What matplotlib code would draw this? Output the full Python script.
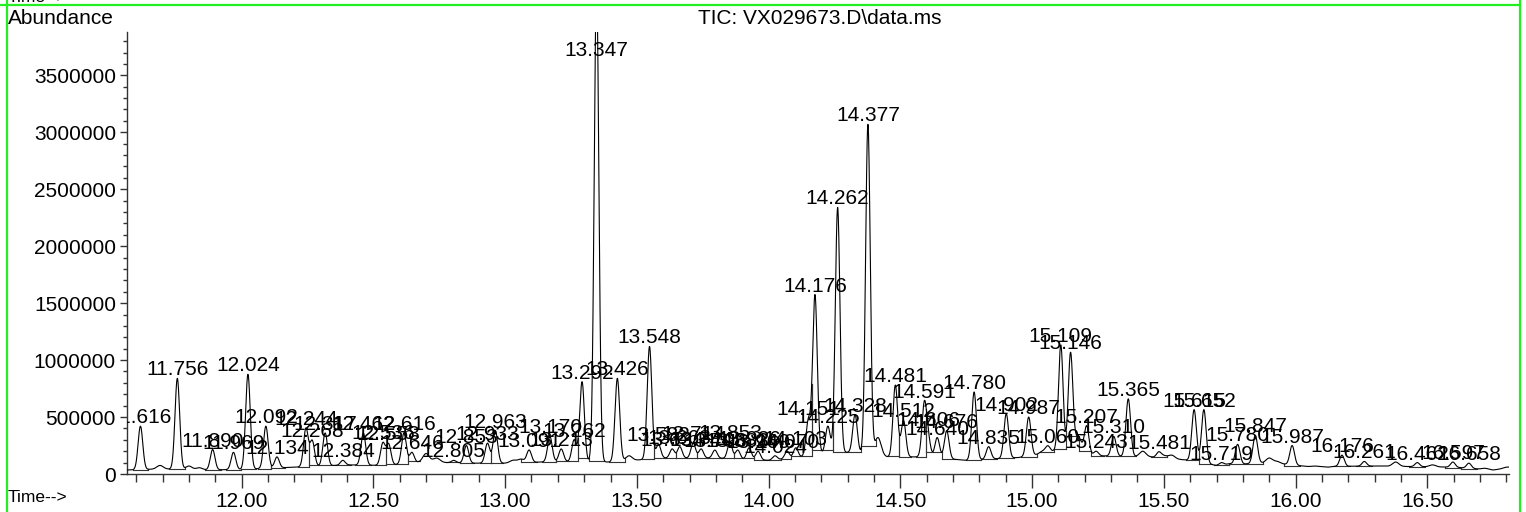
import numpy as np
import matplotlib
matplotlib.use("Agg")
import matplotlib.pyplot as plt
from matplotlib.lines import Line2D
from matplotlib.ticker import MultipleLocator, FuncFormatter

plt.rcParams['font.family'] = ['Liberation Sans', 'DejaVu Sans']

# ---------------- data ----------------
# labelled peaks: retention time (min) and apex abundance
peak_rt = [11.616, 11.756, 11.890, 11.969, 12.024, 12.092, 12.134, 12.244, 12.268,
           12.317, 12.384, 12.462, 12.536, 12.558, 12.616, 12.646, 12.805, 12.853,
           12.933, 12.963, 13.091, 13.170, 13.213, 13.262, 13.292, 13.347, 13.426,
           13.548, 13.582, 13.634, 13.663, 13.714, 13.744, 13.796, 13.853, 13.883,
           13.926, 13.960, 14.024, 14.070, 14.103, 14.151, 14.176, 14.225, 14.262,
           14.328, 14.377, 14.481, 14.512, 14.591, 14.606, 14.640, 14.676, 14.780,
           14.835, 14.902, 14.987, 15.060, 15.109, 15.146, 15.207, 15.243, 15.310,
           15.365, 15.481, 15.615, 15.652, 15.719, 15.780, 15.847, 15.987, 16.176,
           16.261, 16.462, 16.597, 16.658]
peak_height = [420000, 840000, 215000, 190000, 875000, 420000, 150000, 400000, 290000,
               360000, 120000, 360000, 270000, 260000, 360000, 190000, 120000, 250000,
               270000, 380000, 210000, 330000, 220000, 300000, 810000, 4300000, 840000,
               1120000, 260000, 220000, 240000, 270000, 220000, 210000, 280000, 210000,
               230000, 200000, 160000, 200000, 230000, 470000, 1570000, 420000, 2340000,
               520000, 3070000, 780000, 470000, 610000, 290000, 320000, 380000, 720000,
               240000, 530000, 500000, 240000, 1130000, 1060000, 420000, 200000, 330000,
               660000, 190000, 565000, 565000, 100000, 260000, 340000, 250000, 165000,
               110000, 100000, 105000, 95000]

# small unlabelled bumps
bump_rt = [11.690, 11.800, 11.840, 12.700, 12.740, 12.780, 13.030, 13.060, 13.470,
           14.415, 15.040, 15.085, 15.175, 15.420, 15.500, 15.530, 15.750, 15.900,
           15.930, 16.070, 16.120, 16.380, 16.520, 16.720, 16.800]
bump_height = [75000, 70000, 55000, 180000, 140000, 100000, 120000, 130000, 160000,
               320000, 200000, 200000, 330000, 200000, 160000, 165000, 90000, 140000,
               110000, 70000, 60000, 105000, 80000, 50000, 60000]

# slowly varying floor of the trace
base_rt = [11.565, 11.70, 11.85, 12.00, 12.20, 12.40, 12.55, 12.70, 12.85, 13.00,
           13.20, 13.40, 13.60, 13.80, 14.00, 14.10, 14.20, 14.30, 14.45, 14.60,
           14.75, 14.95, 15.05, 15.25, 15.45, 15.60, 15.70, 15.90, 16.05, 16.30,
           16.60, 16.75, 16.81]
base_level = [35000, 45000, 35000, 40000, 60000, 80000, 75000, 110000, 95000, 95000,
              110000, 105000, 140000, 140000, 120000, 140000, 180000, 190000, 150000, 150000,
              120000, 145000, 180000, 160000, 150000, 120000, 75000, 100000, 65000, 70000,
              60000, 35000, 55000]

title = "TIC: VX029673.D\\data.ms"

# ---------------- figure ----------------
W, H = 1526, 512
fig = plt.figure(figsize=(W / 100, H / 100), dpi=100)
ax = fig.add_axes([127 / W, 1 - 474 / H, (1509 - 127) / W, (474 - 32) / H])

x_min, x_max = 11.565, 16.81
y_max = 3.88e6
t = np.linspace(x_min, x_max, 8000)
floor = np.interp(t, base_rt, base_level)
trace = floor.copy()
sig_p, sig_b = 0.0088, 0.012
for rt, h in zip(peak_rt, peak_height):
    amp = h - np.interp(rt, base_rt, base_level)
    trace += amp * np.exp(-0.5 * ((t - rt) / sig_p) ** 2)
for rt, h in zip(bump_rt, bump_height):
    amp = h - np.interp(rt, base_rt, base_level)
    trace += amp * np.exp(-0.5 * ((t - rt) / sig_b) ** 2)

ax.plot(t, trace, color='black', lw=0.8, zorder=3)

# integration baselines with drop lines
n = len(peak_rt)
for i, rt in enumerate(peak_rt):
    lw_ = min(0.03, (rt - peak_rt[i - 1]) / 2) if i > 0 else 0.03
    rw_ = min(0.03, (peak_rt[i + 1] - rt) / 2) if i < n - 1 else 0.03
    a, b = rt - lw_, rt + rw_
    ya, yb = np.interp(a, t, trace), np.interp(b, t, trace)
    lev = min(ya, yb)
    ax.plot([a, b], [lev, lev], color='#333333', lw=0.8, zorder=2)
    ax.plot([a, a], [lev, ya], color='#333333', lw=0.8, zorder=2)
    ax.plot([b, b], [lev, yb], color='#333333', lw=0.8, zorder=2)

# peak labels
px_per_unit = (474 - 32) / y_max
for rt in peak_rt:
    yl = min(np.interp(rt, t, trace), 3.64e6)
    ax.text(rt, yl + 3 / px_per_unit, f"{rt:.3f}", ha='center', va='baseline',
            fontsize=15, color='black', clip_on=True, zorder=4)

ax.set_xlim(x_min, x_max)
ax.set_ylim(0, y_max)
for s in ('top', 'right'):
    ax.spines[s].set_visible(False)
for s in ('left', 'bottom'):
    ax.spines[s].set_color('#333333')
    ax.spines[s].set_linewidth(1.0)

ax.xaxis.set_major_locator(MultipleLocator(0.5))
ax.xaxis.set_minor_locator(MultipleLocator(0.1))
ax.xaxis.set_major_formatter(FuncFormatter(lambda v, p: f"{v:.2f}"))
ax.yaxis.set_major_locator(MultipleLocator(500000))
ax.yaxis.set_minor_locator(MultipleLocator(100000))
ax.yaxis.set_major_formatter(FuncFormatter(lambda v, p: f"{int(round(v))}"))
ax.tick_params(axis='x', which='major', length=10, width=1, labelsize=15, pad=3, color='#333333')
ax.tick_params(axis='x', which='minor', length=6, width=1, color='#333333')
ax.tick_params(axis='y', which='major', length=5, width=1, labelsize=15, pad=3, color='#333333')
ax.tick_params(axis='y', which='minor', length=3, width=1, color='#333333')

# texts outside the plot
fig.text(8 / W, 1 - 18 / H, "Abundance", fontsize=15, ha='left', va='center')
fig.text(820 / W, 1 - 19 / H, title, fontsize=15, ha='center', va='center')
fig.text(8 / W, 1 - 497 / H, "Time-->", fontsize=12.5, ha='left', va='center')
fig.text(8 / W, 1 + 2 / H, "Time-->", fontsize=12.5, ha='left', va='center')

# green frame
green = '#22ee22'
fig.add_artist(Line2D([0, 1520 / W], [1 - 5.3 / H] * 2, color=green, lw=1.6, transform=fig.transFigure))
fig.add_artist(Line2D([6.7 / W] * 2, [0, 1], color=green, lw=1.6, transform=fig.transFigure))
fig.add_artist(Line2D([1520 / W] * 2, [0, 1], color=green, lw=1.6, transform=fig.transFigure))

fig.savefig("out.png", dpi=100)
